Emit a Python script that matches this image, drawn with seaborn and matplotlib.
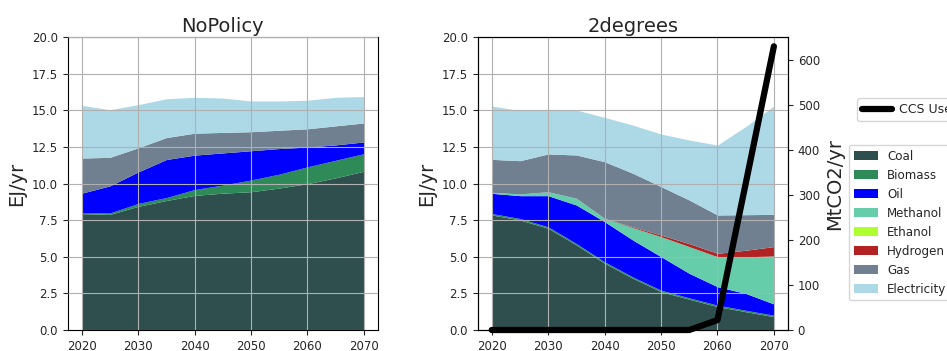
import numpy as np
import pandas as pd
import matplotlib
matplotlib.use("Agg")
import matplotlib.pyplot as plt
import seaborn as sns

years = [2020, 2025, 2030, 2035, 2040, 2045, 2050, 2055, 2060, 2065, 2070]
fuels = ["Coal", "Biomass", "Oil", "Methanol", "Ethanol", "Hydrogen", "Gas", "Electricity"]
fuel_colors = ["darkslategray", "seagreen", "blue", "mediumaquamarine",
               "greenyellow", "firebrick", "slategray", "lightblue"]

# NoPolicy scenario, final energy by fuel (EJ/yr)
np_coal = [7.95, 7.90, 8.45, 8.85, 9.20, 9.35, 9.45, 9.70, 10.00, 10.40, 10.85]
np_biomass = [0.05, 0.10, 0.20, 0.20, 0.40, 0.55, 0.80, 0.95, 1.15, 1.20, 1.20]
np_oil = [1.35, 1.85, 2.15, 2.60, 2.35, 2.20, 2.00, 1.75, 1.35, 1.05, 0.80]
np_methanol = [0, 0, 0, 0, 0, 0, 0, 0, 0, 0, 0]
np_ethanol = [0, 0, 0, 0, 0, 0, 0, 0, 0, 0, 0]
np_hydrogen = [0, 0, 0, 0, 0, 0, 0, 0, 0, 0, 0]
np_gas = [2.40, 1.95, 1.65, 1.50, 1.50, 1.40, 1.30, 1.25, 1.25, 1.30, 1.30]
np_electricity = [3.60, 3.25, 2.95, 2.65, 2.45, 2.35, 2.10, 2.00, 1.95, 1.95, 1.80]

# 2degrees scenario, final energy by fuel (EJ/yr)
td_coal = [7.86, 7.52, 6.95, 5.81, 4.56, 3.53, 2.62, 2.10, 1.60, 1.25, 0.91]
td_biomass = [0.10, 0.10, 0.10, 0.10, 0.10, 0.10, 0.10, 0.10, 0.10, 0.10, 0.10]
td_oil = [1.38, 1.56, 2.13, 2.63, 2.74, 2.52, 2.29, 1.67, 1.26, 1.15, 0.77]
td_methanol = [0.07, 0.12, 0.27, 0.46, 0.23, 0.85, 1.37, 1.83, 2.05, 2.50, 3.28]
td_ethanol = [0, 0, 0, 0, 0, 0, 0, 0, 0, 0, 0]
td_hydrogen = [0, 0, 0, 0, 0, 0.05, 0.11, 0.20, 0.23, 0.45, 0.64]
td_gas = [2.25, 2.27, 2.58, 2.96, 3.87, 3.66, 3.31, 2.98, 2.62, 2.43, 2.20]
td_electricity = [3.65, 3.42, 3.05, 3.07, 3.03, 3.29, 3.59, 4.10, 4.78, 6.02, 7.41]

# Carbon captured in the 2degrees scenario (MtCO2/yr)
ccs_use = [0, 0, 0, 0, 0, 0, 0, 0, 22, 325, 630]

sns.set_theme(style="ticks", rc={"axes.grid": True, "grid.color": "#b0b0b0",
                                 "grid.linewidth": 0.8, "axes.edgecolor": "black",
                                 "axes.linewidth": 0.8})
plt.rcParams["font.family"] = ["DejaVu Sans"]

fig = plt.figure(figsize=(9.47, 3.51), dpi=100)
ax1 = fig.add_axes([67.6 / 947, 21 / 351, (378 - 67.6) / 947, (330 - 37.3) / 351])
ax2 = fig.add_axes([477.6 / 947, 21 / 351, (788 - 477.6) / 947, (330 - 37.3) / 351])

np_stack = [np_coal, np_biomass, np_oil, np_methanol, np_ethanol,
            np_hydrogen, np_gas, np_electricity]
td_stack = [td_coal, td_biomass, td_oil, td_methanol, td_ethanol,
            td_hydrogen, td_gas, td_electricity]

palette = sns.color_palette(fuel_colors)
ax1.stackplot(years, *np_stack, labels=fuels, colors=palette, linewidth=0)
polys = ax2.stackplot(years, *td_stack, labels=fuels, colors=palette, linewidth=0)

for ax, title in [(ax1, "NoPolicy"), (ax2, "2degrees")]:
    ax.set_ylim(0, 20)
    ax.set_yticks(np.arange(0, 20.1, 2.5))
    ax.set_xticks(range(2020, 2071, 10))
    ax.set_title(title, fontsize=14, pad=4)
    ax.set_ylabel("EJ/yr", fontsize=14)
    ax.tick_params(labelsize=8.5, length=3.5, width=0.8)
    ax.set_axisbelow(False)
    for line in ax.get_xgridlines() + ax.get_ygridlines():
        line.set_zorder(5)

ax2r = ax2.twinx()
ccs_df = pd.DataFrame({"year": years, "CCS Use": ccs_use})
sns.lineplot(data=ccs_df, x="year", y="CCS Use", ax=ax2r, color="black",
             linewidth=4.5, label="CCS Use", clip_on=False, zorder=10)
ax2r.set_ylim(0, 650)
ax2r.set_yticks(range(0, 601, 100))
ax2r.grid(False)
ax2r.set_ylabel("MtCO2/yr", fontsize=14)
ax2r.set_xlabel("")
ax2r.tick_params(labelsize=8.5, length=3.5, width=0.8)

ax2r.legend(loc="upper left", bbox_to_anchor=(851 / 947, 1 - 92 / 351),
            bbox_transform=fig.transFigure, fontsize=9, frameon=True,
            handlelength=2.4, handletextpad=0.5)
fig.legend(polys, fuels, loc="upper left", bbox_to_anchor=(843 / 947, 1 - 139 / 351),
           fontsize=8.6, frameon=True, handlelength=2.0, labelspacing=0.5)

fig.savefig("out.png", dpi=100)
